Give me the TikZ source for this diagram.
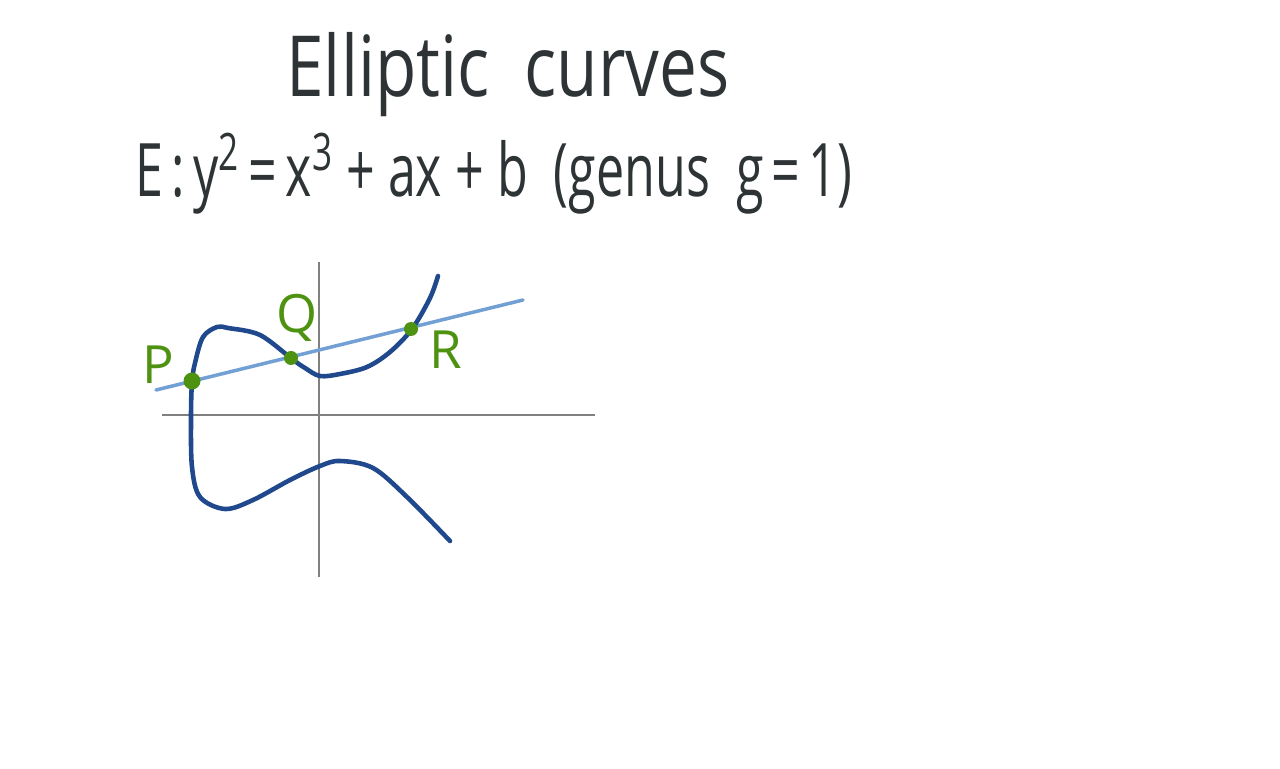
\documentclass[tikz,border=0pt]{standalone}
\usepackage{fontspec}
\setmainfont{Open Sans}
\usepackage{graphicx}
\usetikzlibrary{positioning}
\definecolor{ink}{RGB}{46,52,54}
\definecolor{curveblue}{RGB}{32,72,140}
\definecolor{lineblue}{RGB}{114,160,212}
\definecolor{axisgray}{RGB}{128,128,128}
\definecolor{ptgreen}{RGB}{78,146,18}

\begin{document}
\begin{tikzpicture}[
  pt/.style={circle,fill=ptgreen,inner sep=0pt,minimum size=#1},
  ptlabel/.style={text=ptgreen,font=\fontsize{15}{18}\selectfont,inner sep=0pt}]
\useasboundingbox (0,0) rectangle (12.8,7.68);
\node[ink,anchor=base,inner sep=0pt] (title) at (5.08,6.71)
  {\scalebox{0.8}[1]{\fontsize{24}{28}\selectfont Elliptic\ \ curves}};
\node[ink,anchor=base west,inner sep=0pt] (eqn) at (1.35,5.71)
  {\scalebox{0.68}[1]{\fontsize{21}{25}\selectfont E\,:\,y\textsuperscript{2}\,=\,x\textsuperscript{3} + ax + b\ \ (genus\ \ g\,=\,1)}};
% axes
\coordinate (xl) at (1.62,3.53); \coordinate (xr) at (5.95,3.53);
\coordinate (yt) at (3.19,5.06); \coordinate (yb) at (3.19,1.91);
\draw[axisgray,line width=0.6pt] (xl) -- (xr);
\draw[axisgray,line width=0.6pt] (yt) -- (yb);
% secant line
\coordinate (ls) at (1.56,3.78); \coordinate (le) at (5.23,4.68);
\draw[lineblue,line width=1pt,line cap=round] (ls) -- (le);
% the curve
\draw[curveblue,line width=1.3pt,line cap=round,line join=round]
  plot[smooth,tension=0.55] coordinates {(4.38,4.92) (4.30,4.70) (4.12,4.39) (3.90,4.16)
  (3.67,4.01) (3.40,3.94) (3.20,3.92) (3.05,4.00) (2.92,4.09) (2.60,4.33) (2.28,4.40)
  (2.17,4.41) (2.03,4.31) (1.95,4.05) (1.92,3.86) (1.91,3.51) (1.92,3.01) (2.00,2.71)
  (2.25,2.59) (2.53,2.68) (2.90,2.88) (3.20,3.02) (3.40,3.07) (3.73,3.00) (4.07,2.71)
  (4.50,2.27)};
\node[pt=0.17cm] (P) at (1.92,3.87) {};
\node[pt=0.14cm] (Q) at (2.91,4.10) {};
\node[pt=0.14cm] (R) at (4.11,4.39) {};
\node[ptlabel] (Plab) at (1.58,4.03) {P};
\node[ptlabel] (Qlab) at (2.97,4.50) {Q};
\node[ptlabel] (Rlab) at (4.46,4.18) {R};
\end{tikzpicture}
\end{document}
